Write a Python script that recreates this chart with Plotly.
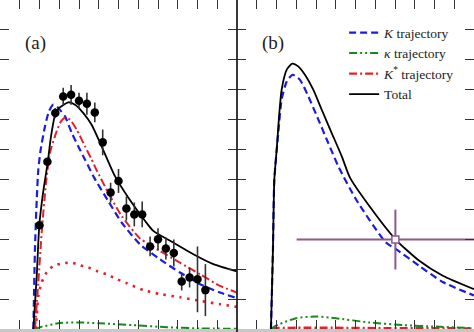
import plotly.graph_objects as go

# ---------------- Panel (a) ----------------
# measured points
xa_pts = [2.0, 2.4, 2.8, 3.2, 3.6, 4.0, 4.4, 4.8, 5.2, 5.6, 6.0, 6.4, 6.8, 7.2,
          7.6, 8.0, 8.4, 8.8, 9.2, 9.6, 10.0, 10.4]
ya_pts = [3.47, 5.59, 7.22, 7.77, 7.83, 7.63, 7.53, 7.24, 6.24, 4.56, 4.95, 4.03,
          3.83, 3.83, 2.76, 3.00, 2.69, 2.54, 1.59, 1.72, 1.66, 1.30]
ea_pts = [0.10, 0.13, 0.17, 0.30, 0.33, 0.27, 0.37, 0.33, 0.43, 0.33, 0.40, 0.40,
          0.40, 0.43, 0.33, 0.37, 0.37, 0.45, 0.30, 0.33, 1.10, 0.87]

# total (black)
xa_tot = [1.69, 1.86, 1.99, 2.19, 2.42, 2.58, 2.78, 2.96, 3.12, 3.46, 3.80, 4.22,
          4.64, 5.15, 5.82, 6.50, 7.34, 7.76, 8.77, 9.79, 10.80, 12.0]
ya_tot = [0.0, 1.78, 3.47, 4.60, 5.59, 6.43, 7.13, 7.37, 7.45, 7.58, 7.50, 7.22,
          6.83, 6.10, 5.11, 4.39, 3.62, 3.28, 2.89, 2.50, 2.17, 1.93]

# K trajectory (blue dashed)
xa_K = [1.69, 1.77, 1.86, 1.94, 2.06, 2.28, 2.48, 2.70, 2.95, 3.29, 3.63, 3.96,
        4.30, 4.76, 5.48, 6.16, 7.09, 8.10, 9.11, 10.13, 11.14, 12.0]
ya_K = [0.0, 2.67, 4.33, 5.33, 6.00, 6.78, 7.28, 7.50, 7.39, 7.11, 6.56, 6.11,
        5.67, 5.07, 4.28, 3.56, 2.83, 2.33, 1.89, 1.50, 1.22, 1.03]

# K* trajectory (red dash-dot)
xa_Ks = [1.77, 1.94, 2.11, 2.33, 2.53, 2.78, 3.04, 3.29, 3.54, 3.88, 4.30, 4.64,
         4.90, 5.48, 6.16, 7.09, 8.10, 9.11, 10.13, 11.14, 12.0]
ya_Ks = [0.0, 1.56, 3.22, 4.89, 5.89, 6.44, 6.89, 7.06, 7.00, 6.67, 6.11, 5.67,
         5.30, 4.56, 3.78, 3.03, 2.61, 2.22, 1.83, 1.44, 1.22]

# red dotted contribution
xa_rd = [1.80, 1.86, 1.94, 2.11, 2.36, 2.70, 3.20, 3.63, 4.05, 4.47, 4.90, 5.40,
         5.91, 6.42, 7.26, 8.10, 9.11, 10.13, 11.14, 12.0]
ya_rd = [0.0, 0.44, 1.11, 1.56, 1.89, 2.11, 2.20, 2.22, 2.13, 2.06, 1.94, 1.83,
         1.67, 1.53, 1.30, 1.17, 1.06, 0.94, 0.83, 0.74]

# kappa trajectory (green)
xa_kap = [1.77, 2.03, 3.04, 4.05, 5.06, 6.73, 8.46, 10.13, 12.0]
ya_kap = [0.0, 0.06, 0.20, 0.22, 0.19, 0.13, 0.06, 0.02, 0.01]

# ---------------- Panel (b) ----------------
xb_tot = [1.72, 1.82, 1.89, 2.01, 2.13, 2.26, 2.52, 2.80, 3.10, 3.44, 3.86, 4.29,
          4.79, 5.30, 5.72, 6.70, 8.02, 9.23, 10.42, 12.0]
yb_tot = [0.0, 2.67, 5.00, 6.00, 7.11, 8.00, 8.67, 8.87, 8.78, 8.50, 8.00, 7.33,
          6.56, 5.78, 5.06, 4.11, 3.00, 2.28, 1.78, 1.33]

xb_K = [1.72, 1.82, 1.89, 2.09, 2.26, 2.52, 2.82, 3.19, 3.61, 4.12, 4.62, 5.13,
        6.03, 7.54, 8.05, 9.23, 10.42, 12.0]
yb_K = [0.0, 2.67, 5.00, 6.56, 7.67, 8.28, 8.50, 8.33, 7.78, 7.00, 6.22, 5.44,
        4.33, 2.89, 2.67, 2.11, 1.57, 1.12]

xb_kap = [1.72, 1.97, 2.99, 4.00, 5.01, 6.68, 8.41, 10.08, 11.95]
yb_kap = [0.0, 0.11, 0.36, 0.42, 0.36, 0.22, 0.13, 0.08, 0.03]

xb_Ks = [1.75, 3.0, 5.0, 7.0, 9.0, 12.0]
yb_Ks = [0.03, 0.04, 0.04, 0.03, 0.03, 0.02]

# single point with cross error bars (panel b)
xb_pt = [8.02]
yb_pt = [2.99]
exb_pt = [5.0]
eyb_pt = [1.0]

BLUE = "#1c1ce0"
RED = "#e3202b"
GREEN = "#17891c"
BLACK = "#000000"
PURPLE = "#8c5a88"

fig = go.Figure()

def line(x, y, xa, ya, color, dash, width=2.0, name=None, show=False, rank=None):
    fig.add_trace(go.Scatter(
        x=x, y=y, xaxis=xa, yaxis=ya, mode="lines", name=name,
        showlegend=show, legendrank=rank if rank else 1000,
        line=dict(color=color, dash=dash, width=width, shape="spline", smoothing=0.6),
        hoverinfo="skip"))

# panel a
line(xa_rd, ya_rd, "x", "y", RED, "2.5px,5.5px", 2.6)
line(xa_kap, ya_kap, "x", "y", GREEN, "8px,3px,2px,3px,2px,3px", 2.0)
line(xa_K, ya_K, "x", "y", BLUE, "7px,4px", 2.2)
line(xa_Ks, ya_Ks, "x", "y", RED, "8px,3px,2px,3px", 2.0)
line(xa_tot, ya_tot, "x", "y", BLACK, "solid", 1.8)
fig.add_trace(go.Scatter(
    x=xa_pts, y=ya_pts, xaxis="x", yaxis="y", mode="markers", showlegend=False,
    marker=dict(color=BLACK, size=8.5),
    error_y=dict(type="data", array=ea_pts, color="#333333", thickness=1.6, width=0)))

# panel b (these carry the legend)
line(xb_Ks, yb_Ks, "x2", "y2", RED, "8px,3px,2px,3px", 2.4,
     name="<i>K</i><sup>*</sup> trajectory", show=True, rank=3)
line(xb_kap, yb_kap, "x2", "y2", GREEN, "8px,3px,2px,3px,2px,3px", 2.0,
     name="<i>κ</i> trajectory", show=True, rank=2)
line(xb_K, yb_K, "x2", "y2", BLUE, "7px,4px", 2.2,
     name="<i>K</i> trajectory", show=True, rank=1)
line(xb_tot, yb_tot, "x2", "y2", BLACK, "solid", 1.8,
     name="Total", show=True, rank=4)
fig.add_trace(go.Scatter(
    x=xb_pt, y=yb_pt, xaxis="x2", yaxis="y2", mode="markers", showlegend=False,
    marker=dict(symbol="square", color="white", size=7,
                line=dict(color=PURPLE, width=1.5)),
    error_x=dict(type="data", array=exb_pt, color=PURPLE, thickness=2, width=0),
    error_y=dict(type="data", array=eyb_pt, color=PURPLE, thickness=2, width=0)))

ydom = [3 / 332, 1]
axcommon = dict(showgrid=False, zeroline=False, showticklabels=False,
                ticks="inside", ticklen=9, tickwidth=1.3, tickcolor="#333333",
                tick0=0, dtick=1, mirror="ticks", showline=False)

fig.update_layout(
    width=474, height=332,
    margin=dict(l=0, r=0, t=0, b=0),
    paper_bgcolor="white", plot_bgcolor="white",
    xaxis=dict(domain=[0, 0.5], range=[0, 12], anchor="y", **axcommon),
    yaxis=dict(domain=ydom, range=[0, 11], anchor="x", **axcommon),
    xaxis2=dict(domain=[0.5, 1], range=[0, 12], anchor="y2", **axcommon),
    yaxis2=dict(domain=ydom, range=[0, 11], anchor="x2", **axcommon),
    font=dict(family="Liberation Serif", size=13, color="#222222"),
    legend=dict(x=0.726, y=0.948, xanchor="left", yanchor="top",
                bgcolor="rgba(0,0,0,0)", borderwidth=0, itemwidth=30,
                tracegroupgap=0,
                font=dict(family="Liberation Serif", size=13.5, color="#222222")),
    annotations=[
        dict(text="(a)", x=35 / 474, y=1 - 43 / 332, xref="paper", yref="paper",
             xanchor="center", yanchor="middle", showarrow=False,
             font=dict(family="Liberation Serif", size=19, color="#222222")),
        dict(text="(b)", x=273 / 474, y=1 - 43 / 332, xref="paper", yref="paper",
             xanchor="center", yanchor="middle", showarrow=False,
             font=dict(family="Liberation Serif", size=19, color="#222222")),
    ],
    shapes=[
        dict(type="line", xref="paper", yref="paper", x0=0.5, x1=0.5, y0=0, y1=1,
             line=dict(color="#222222", width=1.8), layer="above"),
        dict(type="rect", xref="paper", yref="paper", x0=0, x1=1, y0=0, y1=3 / 332,
             fillcolor="#c8c8c8", line=dict(width=0), layer="below"),
    ],
)

fig.write_html("out.html")
